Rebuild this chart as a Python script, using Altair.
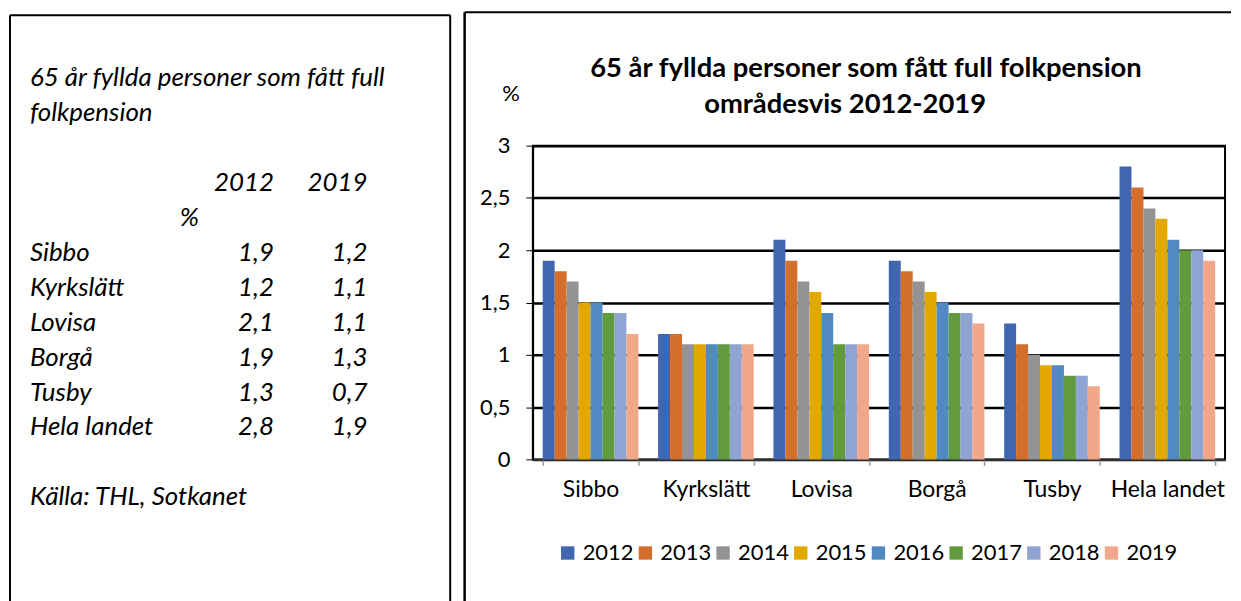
import altair as alt
import pandas as pd

# ---------------- data ----------------
areas = ["Sibbo", "Kyrkslätt", "Lovisa", "Borgå", "Tusby", "Hela landet"]
years = ["2012", "2013", "2014", "2015", "2016", "2017", "2018", "2019"]
sibbo = [1.9, 1.8, 1.7, 1.5, 1.5, 1.4, 1.4, 1.2]
kyrkslatt = [1.2, 1.2, 1.1, 1.1, 1.1, 1.1, 1.1, 1.1]
lovisa = [2.1, 1.9, 1.7, 1.6, 1.4, 1.1, 1.1, 1.1]
borga = [1.9, 1.8, 1.7, 1.6, 1.5, 1.4, 1.4, 1.3]
tusby = [1.3, 1.1, 1.0, 0.9, 0.9, 0.8, 0.8, 0.7]
hela_landet = [2.8, 2.6, 2.4, 2.3, 2.1, 2.0, 2.0, 1.9]
colors = ["#3F66AF", "#D46E2C", "#939393", "#E2A800",
          "#518AC0", "#629A3E", "#90A4D4", "#F1A88A"]
y_ticks = [0, 0.5, 1, 1.5, 2, 2.5, 3]
chart_title = ["65 år fyllda personer som fått full folkpension",
               "områdesvis 2012-2019"]
y_unit = "%"
box_title = ["65 år fyllda personer som fått full", "folkpension"]
table_years = ["2012", "2019"]
source_text = "Källa: THL, Sotkanet"

series = [sibbo, kyrkslatt, lovisa, borga, tusby, hela_landet]
rows = []
for a, vals in zip(areas, series):
    for yr, v in zip(years, vals):
        rows.append({"area": a, "year": yr, "value": v})
df = pd.DataFrame(rows)

def fmt(v):
    return f"{v:.1f}".replace(".", ",")

FONT = "Lato"
PW = 695
PH = 315

# ---------------- left text box ----------------
# views of the two panels share the same top edge (page y = 145)
LEFT_W = 443
ROW0 = -68.0      # centre of first text line relative to view top
ROWH = 35.1       # line height
y_lo = -ROW0 / ROWH
y_hi = y_lo + PH / ROWH
yrow = alt.Y("row:Q", scale=alt.Scale(domain=[y_lo, y_hi], reverse=True,
                                        nice=False, zero=False), axis=None)
TFS = 26
BOX_TOP_L = -131
BOX_BOTTOM = 460

def txt(data, align, xpos):
    return alt.Chart(alt.Data(values=data)).mark_text(
        align=align, baseline="middle", font=FONT, fontSize=TFS,
        fontStyle="italic", color="black"
    ).encode(x=alt.value(xpos), y=yrow, text="t:N")

left_title = txt([{"t": box_title[0], "row": 0}, {"t": box_title[1], "row": 1}], "left", 20)
hdr1 = txt([{"t": table_years[0], "row": 3}], "right", 265)
hdr2 = txt([{"t": table_years[1], "row": 3}], "right", 359)
pct = txt([{"t": y_unit, "row": 4}], "center", 180)
names = txt([{"t": a, "row": 5 + i} for i, a in enumerate(areas)], "left", 20)
c2012 = txt([{"t": fmt(s[0]), "row": 5 + i} for i, s in enumerate(series)], "right", 265)
c2019 = txt([{"t": fmt(s[-1]), "row": 5 + i} for i, s in enumerate(series)], "right", 359)
src = txt([{"t": source_text, "row": 12}], "left", 20)

one = alt.Data(values=[{"k": 1}])
lrule_l = alt.Chart(one).mark_rule(color="black", strokeWidth=2).encode(
    x=alt.value(0), y=alt.value(BOX_TOP_L), y2=alt.value(BOX_BOTTOM))
lrule_r = alt.Chart(one).mark_rule(color="black", strokeWidth=2).encode(
    x=alt.value(LEFT_W - 1), y=alt.value(BOX_TOP_L), y2=alt.value(BOX_BOTTOM))
lrule_t = alt.Chart(one).mark_rule(color="black", strokeWidth=2).encode(
    x=alt.value(0), x2=alt.value(LEFT_W - 1), y=alt.value(BOX_TOP_L))

left = alt.layer(lrule_l, lrule_r, lrule_t, left_title, hdr1, hdr2, pct,
                 names, c2012, c2019, src).properties(
    width=LEFT_W, height=PH,
    view=alt.ViewBackground(stroke="transparent"))

# ---------------- right bar chart ----------------
bars = alt.Chart(df).mark_bar().encode(
    x=alt.X("area:N", sort=areas, title=None,
            scale=alt.Scale(paddingInner=0.171, paddingOuter=0.0855),
            axis=alt.Axis(labelAngle=0, labelFont=FONT, labelFontSize=23,
                          labelColor="black", tickBand="extent",
                          tickColor="#9a9a9a", tickSize=6, tickWidth=1.5,
                          domainColor="#404040", domainWidth=1.5,
                          labelPadding=13, grid=False)),
    xOffset=alt.XOffset("year:N", sort=years,
                        scale=alt.Scale(paddingInner=0, paddingOuter=0)),
    y=alt.Y("value:Q", scale=alt.Scale(domain=[0, 3], nice=False),
            axis=alt.Axis(values=y_ticks, format="~g",
                          labelExpr="replace(datum.label, '.', ',')",
                          labelFont=FONT, labelFontSize=22, labelColor="black",
                          labelPadding=16, tickSize=7, tickColor="black",
                          domainColor="black", domainWidth=1.5,
                          gridColor="black", gridWidth=2.5,
                          title=y_unit, titleAngle=0, titleX=-22.5, titleY=-52.5,
                          titleAlign="center", titleBaseline="middle",
                          titleFont=FONT, titleFontSize=22,
                          titleFontWeight="normal", titleColor="black")),
    color=alt.Color("year:N", sort=years,
                    scale=alt.Scale(domain=years, range=colors),
                    legend=alt.Legend(orient="none", legendX=549, legendY=398,
                                      direction="horizontal", columns=8,
                                      columnPadding=-7, symbolType="square",
                                      symbolSize=180, symbolStrokeWidth=0,
                                      labelFont=FONT, labelFontSize=22,
                                      labelColor="black", labelOffset=4,
                                      title=None, padding=0)),
)

def title_line(t, xpos, ypos):
    return alt.Chart(alt.Data(values=[{"t": t}])).mark_text(
        align="center", baseline="middle", font=FONT, fontSize=27.5,
        fontWeight="bold", color="black"
    ).encode(x=alt.value(xpos), y=alt.value(ypos), text="t:N")

t1 = title_line(chart_title[0], 334.5, -77)
t2 = title_line(chart_title[1], 313.5, -41)

rrule_l = alt.Chart(one).mark_rule(color="black", strokeWidth=2.5).encode(
    x=alt.value(-68.5), y=alt.value(-134), y2=alt.value(BOX_BOTTOM))
rrule_t = alt.Chart(one).mark_rule(color="black", strokeWidth=2).encode(
    x=alt.value(-68.5), x2=alt.value(701), y=alt.value(-134))

right = alt.layer(bars, t1, t2, rrule_l, rrule_t).properties(
    width=PW, height=PH,
    view=alt.ViewBackground(stroke="black", strokeWidth=2))

chart = alt.hconcat(left, right, spacing=10).properties(
    padding={"left": 0, "top": 0, "right": 0, "bottom": 0}
).configure_view(stroke="transparent")

chart.save("out.html", embed_options={"renderer": "svg", "actions": False})
